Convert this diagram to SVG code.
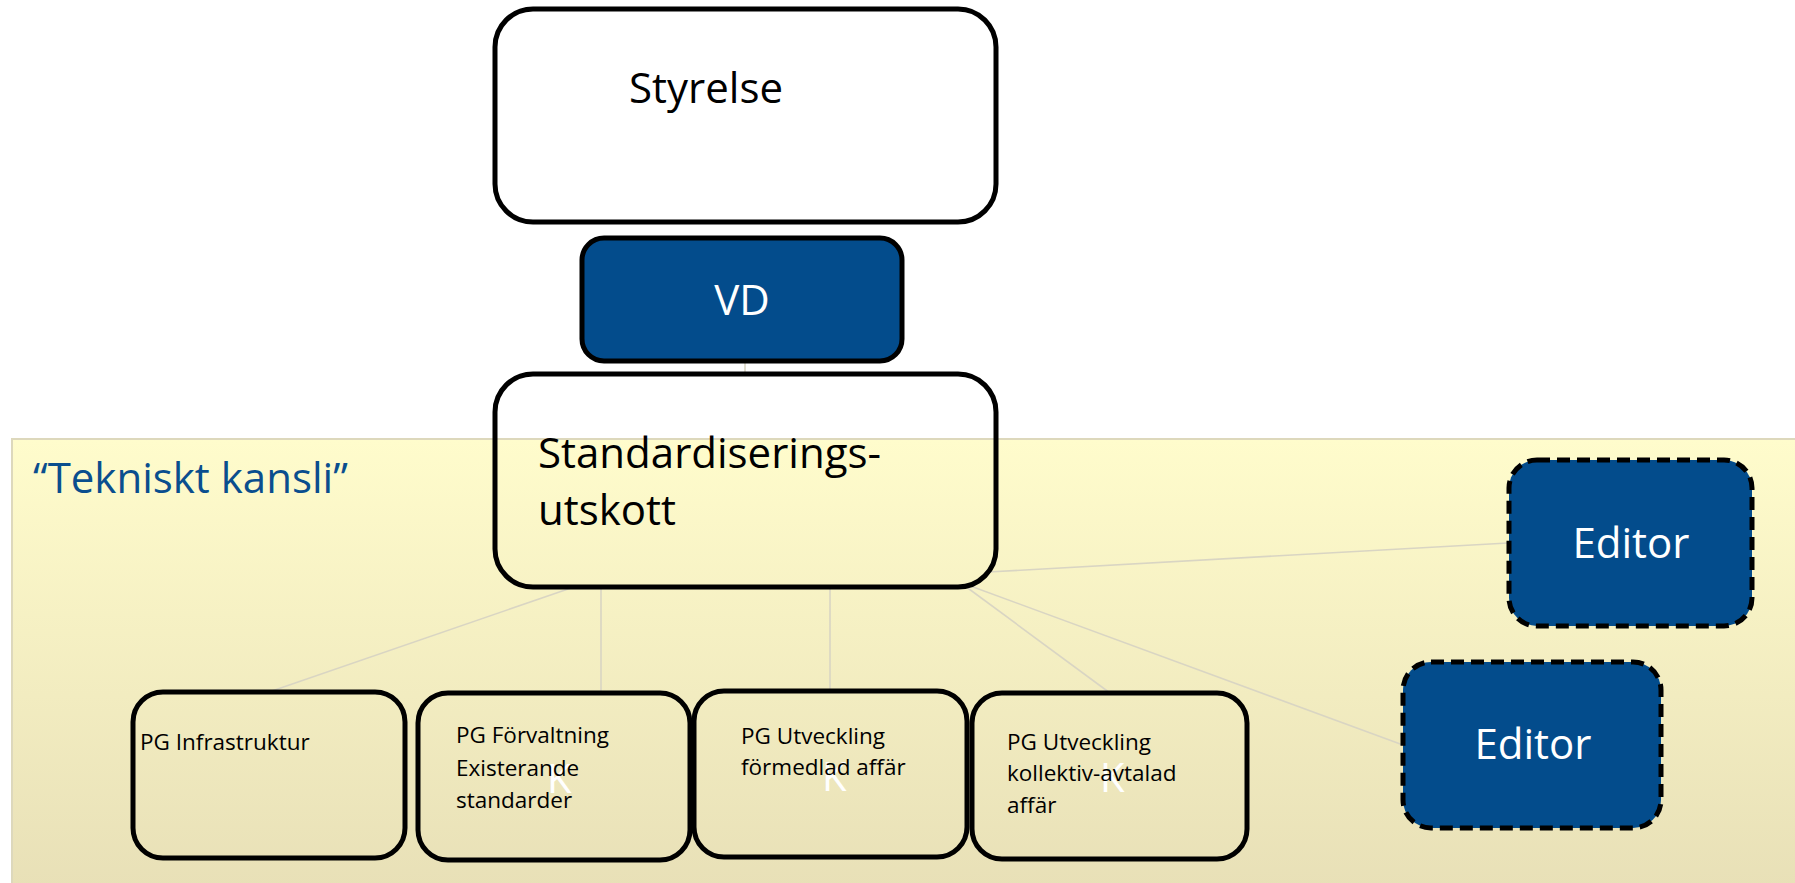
<svg xmlns="http://www.w3.org/2000/svg" width="1795" height="883" viewBox="0 0 1795 883">
  <defs>
    <linearGradient id="band" x1="0" y1="0" x2="0" y2="1">
      <stop offset="0" stop-color="#FFFCCC"/>
      <stop offset="1" stop-color="#E8E0B7"/>
    </linearGradient>
  </defs>
  <style>
    .box { fill: none; stroke: #000; stroke-width: 5; }
    .blue { fill: #034C8C; stroke: #000; stroke-width: 5; }
    .dash { fill: #034C8C; stroke: #000; stroke-width: 5; stroke-dasharray: 13 7; }
    .big { font-family: "Open Sans", "Noto Sans", sans-serif; font-size: 42px; fill: #000; }
    .white { fill: #fff; }
    .small { font-family: "Open Sans", "Noto Sans", sans-serif; font-size: 22.5px; fill: #000; }
    .k { font-family: "Open Sans", "Noto Sans", sans-serif; font-size: 40px; fill: #fff; }
    .conn { stroke: #D9D5C3; stroke-width: 1.6; fill: none; }
  </style>
  <rect width="1795" height="883" fill="#fff"/>

  <g id="tekniskt-kansli">
    <rect x="12" y="439" width="1790" height="450" fill="url(#band)" stroke="#DDD8BC" stroke-width="2"/>
    <text x="33" y="493" class="big" style="fill:#0A4E8E">“Tekniskt kansli”</text>
  </g>

  <g id="connectors">
    <line class="conn" x1="745" y1="362" x2="745" y2="374"/>
    <line class="conn" x1="571" y1="588" x2="269" y2="692"/>
    <line class="conn" x1="601" y1="588" x2="601" y2="693"/>
    <line class="conn" x1="830" y1="588" x2="830" y2="691"/>
    <line class="conn" x1="965" y1="586" x2="1110" y2="693"/>
    <line class="conn" x1="965" y1="584" x2="1403" y2="745"/>
    <line class="conn" x1="988" y1="572" x2="1508" y2="543"/>
  </g>

  <g id="styrelse">
    <rect class="box" x="495" y="9" width="501" height="213" rx="38"/>
    <text x="629" y="103" class="big">Styrelse</text>
  </g>

  <g id="vd">
    <rect class="blue" x="582" y="238" width="320" height="123" rx="22"/>
    <text x="742" y="315" class="big white" text-anchor="middle">VD</text>
  </g>

  <g id="standardiseringsutskott">
    <rect class="box" x="495" y="374" width="501" height="213" rx="38"/>
    <text x="538" y="468" class="big">Standardiserings-</text>
    <text x="538" y="525" class="big">utskott</text>
  </g>

  <g id="editor-1">
    <rect class="dash" x="1509" y="460" width="243" height="166" rx="28"/>
    <text x="1631" y="558" class="big white" text-anchor="middle">Editor</text>
  </g>

  <g id="editor-2">
    <rect class="dash" x="1403" y="662" width="258" height="166" rx="28"/>
    <text x="1533" y="759" class="big white" text-anchor="middle">Editor</text>
  </g>

  <g id="pg-infrastruktur">
    <rect class="box" x="133" y="692" width="272" height="166" rx="30"/>
    <text x="140" y="750" class="small">PG Infrastruktur</text>
  </g>

  <g id="pg-forvaltning">
    <rect class="box" x="418" y="693" width="272" height="167" rx="30"/>
    <text x="547" y="793" class="k">K</text>
    <text class="small"><tspan x="456" y="743">PG Förvaltning</tspan><tspan x="456" y="776">Existerande</tspan><tspan x="456" y="808">standarder</tspan></text>
  </g>

  <g id="pg-utveckling-formedlad">
    <rect class="box" x="694" y="691" width="273" height="166" rx="30"/>
    <text x="822" y="791" class="k">K</text>
    <text class="small"><tspan x="741" y="744">PG Utveckling</tspan><tspan x="741" y="775">förmedlad affär</tspan></text>
  </g>

  <g id="pg-utveckling-kollektiv">
    <rect class="box" x="972" y="693" width="275" height="166" rx="30"/>
    <text x="1100" y="792" class="k">K</text>
    <text class="small"><tspan x="1007" y="750">PG Utveckling</tspan><tspan x="1007" y="781">kollektiv-avtalad</tspan><tspan x="1007" y="813">affär</tspan></text>
  </g>
</svg>
